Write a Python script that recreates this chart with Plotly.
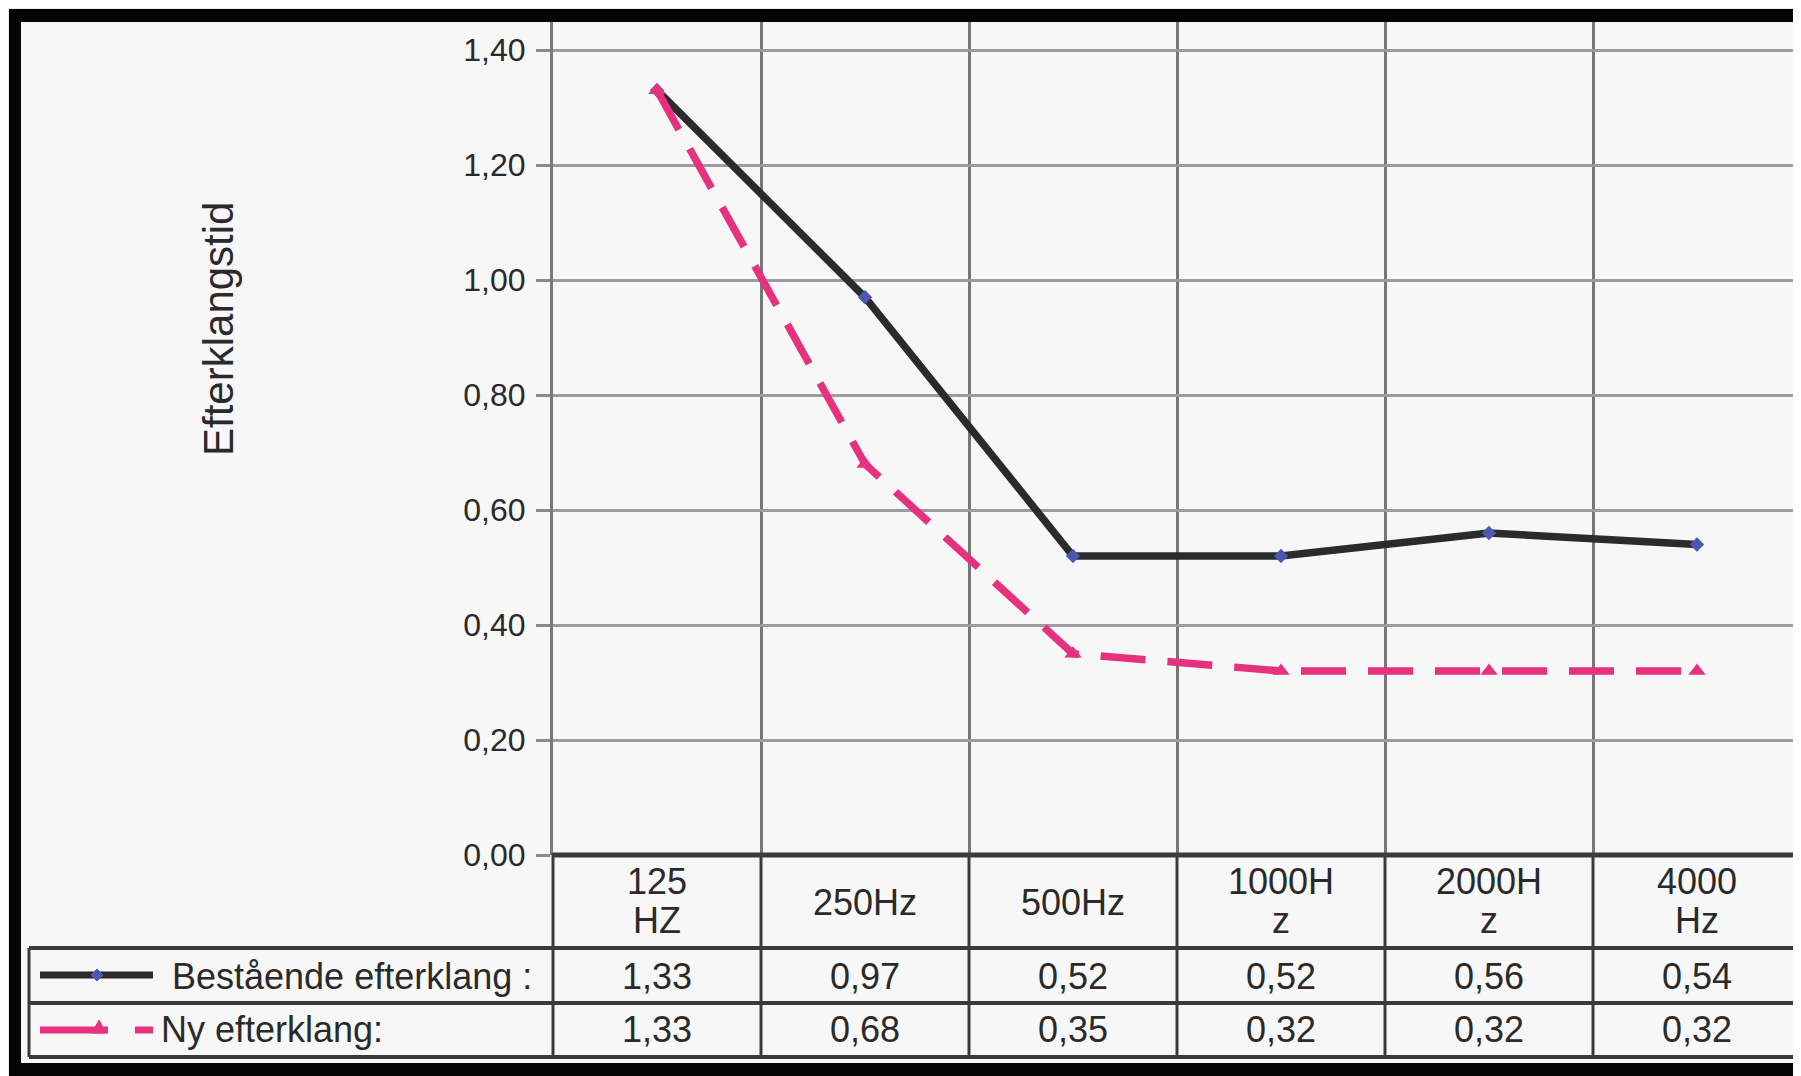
import plotly.graph_objects as go

# ---------------- data ----------------
categories = ["125<br>HZ", "250Hz", "500Hz", "1000H<br>z", "2000H<br>z", "4000<br>Hz"]
bestaende = [1.33, 0.97, 0.52, 0.52, 0.56, 0.54]
ny = [1.33, 0.68, 0.35, 0.32, 0.32, 0.32]
series_names = ["Bestående efterklang :", "Ny efterklang:"]
y_ticks = [0.0, 0.2, 0.4, 0.6, 0.8, 1.0, 1.2, 1.4]
y_title = "Efterklangstid"

# ---------------- layout geometry (page pixels) ----------------
OFF = 8                      # default body margin of the html page
PAGE_W, PAGE_H = 1801, 1076
W, H = PAGE_W - OFF, PAGE_H - OFF
AX_X, PLOT_TOP, PLOT_BOT = 553, 22, 855
L, R, T, B = AX_X - OFF, 0, PLOT_TOP - OFF, H - (PLOT_BOT - OFF)
PW, PH = W - L - R, H - T - B
Y_MAX = PH / 575.0

def px2x(px):
    return (px - OFF - L) / PW

def py2y(py):
    return (H - B - (py - OFF)) / PH

FONT = "Liberation Sans, Arial, sans-serif"
TXT = "#2a2a2a"
BLACK_LINE = "#2b2b2b"
PINK = "#e6317f"
BLUE = "#4b58b0"
TABLE = "#3a3a3a"
TSIZE = 36

xs = list(range(len(categories)))

fig = go.Figure()
fig.add_trace(go.Scatter(
    x=xs, y=bestaende, mode="lines+markers", name=series_names[0],
    line=dict(color=BLACK_LINE, width=7.5),
    marker=dict(symbol="diamond", size=11, color=BLUE),
))
fig.add_trace(go.Scatter(
    x=xs, y=ny, mode="lines+markers", name=series_names[1],
    line=dict(color=PINK, width=7.5, dash="45px,22px"),
    marker=dict(symbol="triangle-up", size=15, color=PINK),
))

shapes = []
def hline(py, px0, px1, color=TABLE, width=4):
    shapes.append(dict(type="line", xref="paper", yref="paper",
                       x0=px2x(px0), x1=px2x(px1), y0=py2y(py), y1=py2y(py),
                       line=dict(color=color, width=width), layer="above"))

def vline_px(px, py0, py1, color=TABLE, width=3):
    shapes.append(dict(type="line", xref="paper", yref="paper",
                       x0=px2x(px), x1=px2x(px), y0=py2y(py0), y1=py2y(py1),
                       line=dict(color=color, width=width), layer="above"))

def rect_px(px0, py0, px1, py1, color):
    shapes.append(dict(type="rect", xref="paper", yref="paper",
                       x0=px2x(px0), x1=px2x(px1), y0=py2y(py1), y1=py2y(py0),
                       line=dict(width=0), fillcolor=color, layer="above"))

# table lines
hline(PLOT_BOT, AX_X, PAGE_W, width=5)
hline(948, 29, PAGE_W)
hline(1003, 29, PAGE_W)
hline(1057, 29, PAGE_W)
vline_px(29, 948, 1057)
vline_px(AX_X, PLOT_BOT - 2, 1057)
for i in range(len(categories) - 1):
    shapes.append(dict(type="line", xref="x", yref="paper",
                       x0=i + 0.5, x1=i + 0.5, y0=py2y(PLOT_BOT), y1=py2y(1057),
                       line=dict(color=TABLE, width=3), layer="above"))

# legend symbols
hline(975, 40, 153, color=BLACK_LINE, width=7)
hline(1030, 40, 108, color=PINK, width=7)
hline(1030, 135, 153, color=PINK, width=7)

def path_px(points, color):
    p = "M " + " L ".join(f"{px2x(a)},{py2y(b)}" for a, b in points) + " Z"
    shapes.append(dict(type="path", xref="paper", yref="paper", path=p,
                       fillcolor=color, line=dict(color=color, width=1), layer="above"))

path_px([(97, 969), (103, 975), (97, 981), (91, 975)], BLUE)
path_px([(99, 1020), (106, 1033), (92, 1033)], PINK)

# frame
rect_px(OFF, OFF, PAGE_W, 9, "#ecece8")
rect_px(OFF, OFF, 9, PAGE_H, "#ecece8")
rect_px(9, 9, PAGE_W, 22, "#050505")
rect_px(9, 9, 21, PAGE_H, "#050505")
rect_px(9, 1063, PAGE_W, PAGE_H, "#050505")

annotations = []
def txt(x, y, s, xref="x", xanchor="center", size=TSIZE):
    annotations.append(dict(x=x, xref=xref, y=y, yref="paper", text=s,
                            showarrow=False, font=dict(size=size, color=TXT, family=FONT),
                            xanchor=xanchor, yanchor="middle"))

for i, c in enumerate(categories):
    parts = c.split("<br>")
    if len(parts) == 1:
        txt(i, py2y(902), parts[0])
    else:
        txt(i, py2y(881), parts[0])
        txt(i, py2y(920), parts[1])
for vals, py in ((bestaende, 976), (ny, 1030)):
    for i, v in enumerate(vals):
        txt(i, py2y(py), f"{v:.2f}".replace(".", ","))
txt(px2x(170), py2y(976), series_names[0], xref="paper", xanchor="left")
txt(px2x(159), py2y(1030), series_names[1], xref="paper", xanchor="left")
annotations.append(dict(x=px2x(218), xref="paper", y=py2y(329), yref="paper",
                        text=y_title, textangle=-90, showarrow=False,
                        xanchor="center", yanchor="middle",
                        font=dict(size=42, color=TXT, family=FONT)))

fig.update_layout(
    width=W, height=H,
    margin=dict(l=L, r=R, t=T, b=B, pad=0),
    paper_bgcolor="#f7f7f7", plot_bgcolor="#f7f7f7",
    separators=", ",
    showlegend=False,
    shapes=shapes, annotations=annotations,
    xaxis=dict(range=[-0.5, len(categories) - 0.5], tickvals=[i + 0.5 for i in range(len(categories) - 1)],
               showticklabels=False, ticks="", showgrid=True, gridcolor="#767676", gridwidth=3,
               zeroline=False, showline=False, fixedrange=True),
    yaxis=dict(range=[0, Y_MAX], tickvals=y_ticks, tickformat=".2f",
               showgrid=True, gridcolor="#9d9aa3", gridwidth=3, zeroline=False,
               showline=True, linecolor="#7a7a7a", linewidth=3,
               ticks="outside", ticklen=14, tickwidth=3, tickcolor="#8a8a8a",
               ticklabelstandoff=4,
               tickfont=dict(size=32, color=TXT, family=FONT), fixedrange=True),
)

fig.write_html("out.html")
